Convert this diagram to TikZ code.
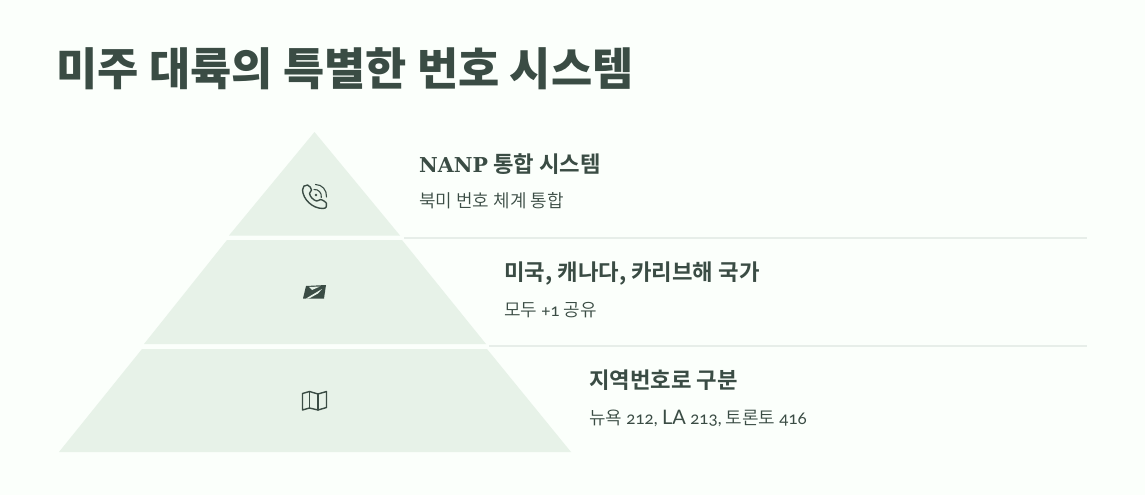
\documentclass[tikz,border=0pt]{standalone}
\usepackage{fontspec}
\setmainfont{Noto Sans CJK KR}
\newfontfamily\krbold{Noto Sans CJK KR Bold}
\newfontfamily\krblack{Noto Sans CJK KR Black}
\newfontfamily\krreg{Noto Sans CJK KR DemiLight}
\newfontfamily\latbold{DejaVu Serif Bold}
\newfontfamily\latlight[Numbers=OldStyle]{Lato}
\definecolor{bgc}{HTML}{FBFFFB}
\definecolor{tier}{HTML}{E7F2E8}
\definecolor{ink}{HTML}{3A4C44}
\definecolor{rulec}{HTML}{E7EEE9}
\tikzset{
  titletext/.style={anchor=base west,inner sep=0pt,text=ink,font=\krblack\fontsize{44.8}{50}\selectfont},
  headtext/.style={anchor=base west,inner sep=0pt,text=ink,font=\krbold\fontsize{22.3}{26}\selectfont},
  subtext/.style={anchor=base west,inner sep=0pt,text=ink,font=\krreg\fontsize{18}{22}\selectfont},
  tierfill/.style={fill=tier,draw=none},
  sep/.style={draw=rulec,line width=1.8pt},
  iconline/.style={draw=ink,line width=1.4pt,line cap=round,line join=round,fill=none}
}
\begin{document}
\begin{tikzpicture}[x=1pt,y=-1pt]
\useasboundingbox[fill=bgc] (0,0) rectangle (1145,495);
\node[titletext] (title) at (56.5,85.5) {미주 대륙의 특별한 번호 시스템};
% tiers
\fill[tierfill] (314.5,132) -- (400,235.5) -- (229,235.5) -- cycle;
\fill[tierfill] (227,240) -- (402,240) -- (486,344) -- (144,344) -- cycle;
\fill[tierfill] (142,349) -- (487,349) -- (571,452) -- (59,452) -- cycle;
% separators
\coordinate (s1a) at (404,238); \coordinate (s1b) at (1087,238);
\coordinate (s2a) at (489,346); \coordinate (s2b) at (1087,346);
\draw[sep] (s1a) -- (s1b);
\draw[sep] (s2a) -- (s2b);
% labels
\node[headtext] (h1) at (419,172) {{\latbold\fontsize{20.5}{26}\selectfont NANP} 통합 시스템};
\node[subtext] (d1) at (419,207.5) {북미 번호 체계 통합};
\node[headtext] (h2) at (504,280) {미국, 캐나다, 카리브해 국가};
\node[subtext] (d2) at (504,316) {모두 {\latlight\fontsize{17}{22}\selectfont +1} 공유};
\node[headtext] (h3) at (589,388.5) {지역번호로 구분};
\node[subtext] (d3) at (589,424.5) {뉴욕 {\latlight\fontsize{17}{22}\selectfont 212, {\fontsize{20}{22}\selectfont LA} 213,} 토론토 {\latlight\fontsize{17}{22}\selectfont 416}};
% phone icon
\draw[iconline] (307.5,185) .. controls (304.5,184.5) and (302.5,187) .. (302.5,190)
  .. controls (303,199) and (312,208.5) .. (323,208.5)
  .. controls (326,208.5) and (327.5,206) .. (326.5,203.5)
  .. controls (326,202) and (322,199.5) .. (320.5,199.5)
  .. controls (319,199.5) and (318,201.5) .. (316.5,201)
  .. controls (313,200) and (310,196.5) .. (309.5,193.5)
  .. controls (309.5,192) and (311.5,191.5) .. (311.5,190)
  .. controls (311.5,188.5) and (309.5,185.5) .. (307.5,185) -- cycle;
\fill[ink] (316,195) circle (1.4);
\draw[iconline,line width=1.1pt] (314,189.5) .. controls (318.5,189) and (322,193) .. (321.3,197.5);
\draw[iconline,line width=1.1pt] (315.5,184.5) .. controls (322,184.5) and (327,190) .. (326.5,197);
% postal icon
\fill[ink] (306,286) -- (326,285) -- (324,298.5) -- (303,298.5) -- cycle;
\fill[tier] (309,287) -- (320,286.5) -- (312,290) -- cycle;
\fill[tier] (306,298.5) -- (322,289) -- (318,293.5) -- (309,298.5) -- cycle;
% map icon
\draw[iconline] (302.5,393.5) -- (309.5,391.5) -- (318,394) -- (326.5,391.5) -- (326.5,407.5) -- (318,410) -- (309.5,408) -- (302.5,410) -- cycle;
\draw[iconline] (309.5,391.5) -- (309.5,408);
\draw[iconline] (318,394) -- (318,410);
\end{tikzpicture}
\end{document}
